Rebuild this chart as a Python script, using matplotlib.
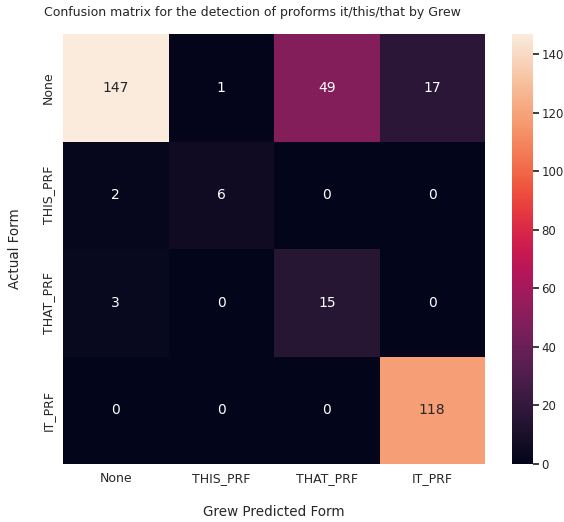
import numpy as np
import matplotlib
matplotlib.use("Agg")
import matplotlib.pyplot as plt
import seaborn as sns

# confusion matrix values
labels = ["None", "THIS_PRF", "THAT_PRF", "IT_PRF"]
row_none = [147, 1, 49, 17]
row_this = [2, 6, 0, 0]
row_that = [3, 0, 15, 0]
row_it = [0, 0, 0, 118]

cm = np.array([row_none, row_this, row_that, row_it])

sns.set_theme()
fig = plt.figure(figsize=(5.64, 5.22), dpi=100)
ax = fig.add_axes([63/564, 1-464/522, 422/564, 430/522])
cax = fig.add_axes([512/564, 1-464/522, 21/564, 430/522])

sns.heatmap(cm, annot=True, fmt="d", ax=ax, cbar_ax=cax,
            xticklabels=labels, yticklabels=labels,
            annot_kws={"size": 10})
ax.set_title("Confusion matrix for the detection of proforms it/this/that by Grew",
             fontsize=9, pad=13, x=0.45)
ax.set_xlabel("Grew Predicted Form", fontsize=9.75, labelpad=14)
ax.set_ylabel("Actual Form", fontsize=9.75, labelpad=14)
ax.tick_params(axis="both", labelsize=9, length=0, pad=6)
cax.tick_params(labelsize=8.5, length=4.6, pad=1.5)

plt.savefig("out.png", dpi=100)
